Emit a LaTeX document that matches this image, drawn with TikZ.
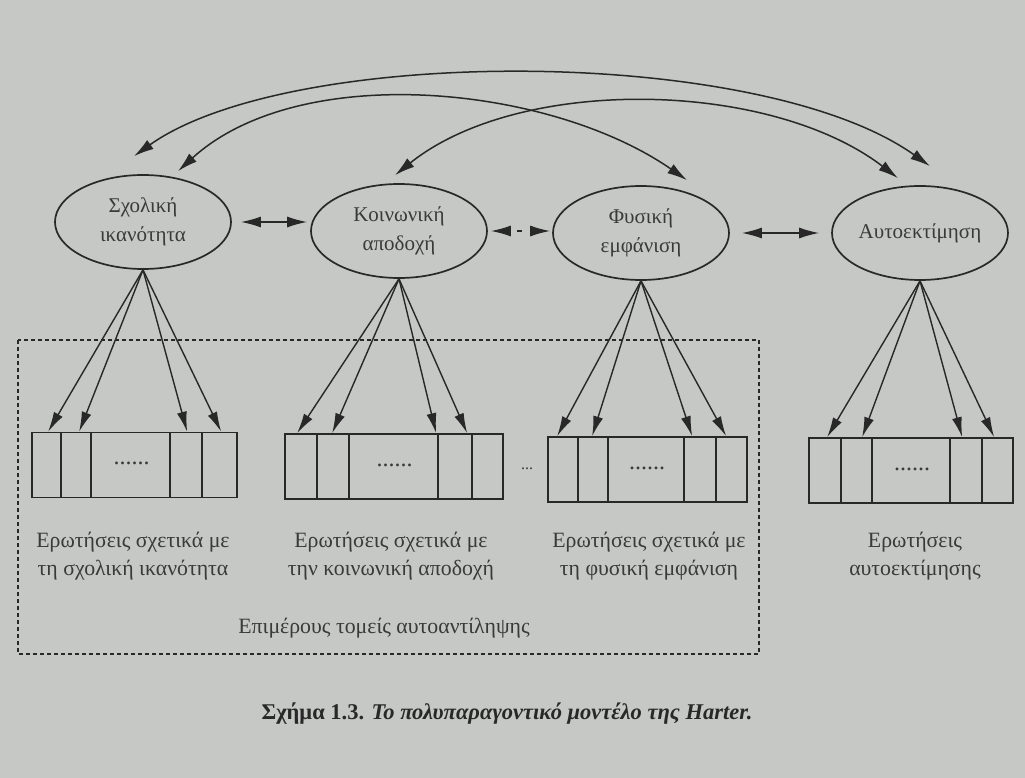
\documentclass[tikz,border=0pt]{standalone}
\usepackage{fontspec}
\setmainfont{Liberation Serif}
\usetikzlibrary{arrows.meta,shapes.geometric}
\definecolor{paper}{RGB}{197,200,197}
\definecolor{ink}{RGB}{40,40,40}
\definecolor{txt}{RGB}{58,58,58}
\begin{document}
\begin{tikzpicture}[x=1pt,y=-1pt,
  factor/.style={ellipse, draw=ink, line width=1.7pt, inner sep=0pt,
    minimum width=176pt, minimum height=94pt, align=center, text=txt,
    font=\fontsize{21}{29}\selectfont},
  itembox/.style={draw=ink, line width=1.7pt, minimum height=65pt, inner sep=0pt},
  divider/.style={draw=ink, line width=1.7pt},
  link/.style={draw=ink, line width=1.5pt, {Latex[length=20pt,width=11pt]}-{Latex[length=20pt,width=11pt]}},
  load/.style={draw=ink, line width=1.4pt, -{Latex[length=20pt,width=10pt]}},
  dotsfill/.style={text=txt, inner sep=0pt, font=\fontsize{24}{24}\selectfont},
  label/.style={text=txt, align=center, font=\fontsize{21.8}{28}\selectfont},
  frame/.style={draw=ink, line width=1.2pt, dash pattern=on 4pt off 3pt}
]
\useasboundingbox (0,0) rectangle (1025,778);
\fill[paper] (0,0) rectangle (1025,778);

% factors
\node[factor] (e1) at (143,222) {Σχολική\\ικανότητα};
\node[factor] (e2) at (399,231) {Κοινωνική\\αποδοχή};
\node[factor] (e3) at (641,233) {Φυσική\\εμφάνιση};
\node[factor] (e4) at (920,233) {Αυτοεκτίμηση};

% horizontal links
\draw[link] ([xshift=9pt]e1.east) -- ([xshift=-3pt]e2.west |- e1.east);
\draw[draw=ink, line width=1.5pt, dash pattern=on 0pt off 7pt on 5pt off 40pt,
      {Latex[length=20pt,width=11pt]}-{Latex[length=20pt,width=11pt]}]
      ([xshift=3pt]e2.east) -- ([xshift=-2pt]e3.west |- e2.east);
\draw[link] ([xshift=12pt]e3.east) -- ([xshift=-12pt]e4.west);

% curved links
\coordinate (o1) at ([shift={(-9,-18)}]e1.north);
\coordinate (o2) at ([shift={(10,-19)}]e4.north);
\coordinate (a1) at ([shift={(35,-3)}]e1.north);
\coordinate (a2) at ([shift={(46,-5)}]e3.north);
\coordinate (c1) at ([shift={(-4,-8)}]e2.north);
\coordinate (c2) at ([shift={(-22,-7)}]e4.north);
\draw[link] (o1) .. controls (290,45) and (760,45) .. (o2);
\draw[link] (a1) .. controls (300,60) and (550,85) .. (a2);
\draw[link] (c1) .. controls (520,75) and (770,80) .. (c2);

% item boxes
\node[itembox, minimum width=205pt] (b1) at (134.5,465) {};
\node[itembox, minimum width=218pt] (b2) at (394,466.5) {};
\node[itembox, minimum width=199pt] (b3) at (647.5,469.5) {};
\node[itembox, minimum width=204pt] (b4) at (911,470.5) {};
\foreach \b/\o in {b1/30,b1/60,b1/139,b1/171,
                   b2/33,b2/65,b2/154,b2/188,
                   b3/31,b3/61,b3/137,b3/169,
                   b4/33,b4/64,b4/142,b4/174}
  \draw[divider] ([xshift=\o pt]\b.north west) -- ([xshift=\o pt]\b.south west);
\node[dotsfill] (d1) at (131.5,463) {......};
\node[dotsfill] (d2) at (394.5,465) {......};
\node[dotsfill] (d3) at (647,468) {......};
\node[dotsfill] (d4) at (912,469) {......};
\node[dotsfill, font=\fontsize{16}{16}\selectfont] (dd) at (527,469) {...};

% loadings
\foreach \o in {17,48,156,190} \draw[load] (e1.south) -- ([xshift=\o pt]b1.north west);
\foreach \o in {13,48,152,183} \draw[load] (e2.south) -- ([xshift=\o pt]b2.north west);
\foreach \o in {10,45,145,179} \draw[load] (e3.south) -- ([xshift=\o pt]b3.north west);
\foreach \o in {19,54,154,186} \draw[load] (e4.south) -- ([xshift=\o pt]b4.north west);

% labels
\node[label] (l1) at (133,556) {Ερωτήσεις σχετικά με\\τη σχολική ικανότητα};
\node[label] (l2) at (391,556) {Ερωτήσεις σχετικά με\\την κοινωνική αποδοχή};
\node[label] (l3) at (649,556) {Ερωτήσεις σχετικά με\\τη φυσική εμφάνιση};
\node[label] (l4) at (915,556) {Ερωτήσεις\\αυτοεκτίμησης};
\node[label] (dom) at (384,628) {Επιμέρους τομείς αυτοαντίληψης};

% dashed frame
\draw[frame] (18,340) rectangle (759,654);

% caption
\node[text=ink, font=\fontsize{22.5}{26}\selectfont\bfseries] (cap) at (507,714)
  {Σχήμα 1.3. {\itshape Το πολυπαραγοντικό μοντέλο της Harter.}};
\end{tikzpicture}
\end{document}
